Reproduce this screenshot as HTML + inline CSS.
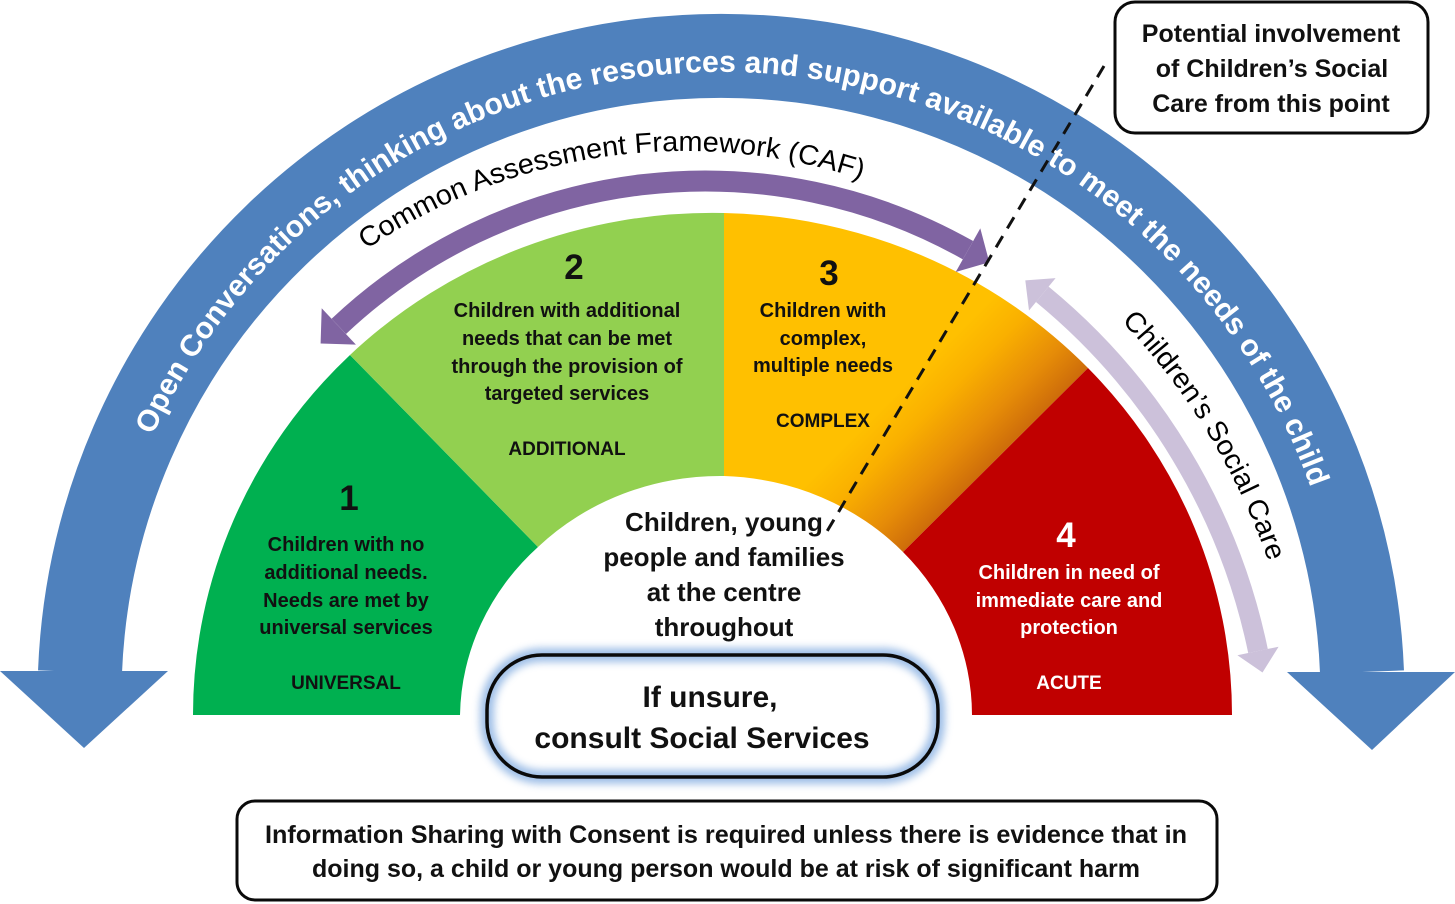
<!DOCTYPE html>
<html>
<head>
<meta charset="utf-8">
<style>
  html, body { margin:0; padding:0; background:#ffffff; }
  body { width:1455px; height:904px; overflow:hidden; }
  svg { display:block; }
  text { font-family: "Liberation Sans", Arial, sans-serif; }
</style>
</head>
<body>
<svg width="1455" height="904" viewBox="0 0 1455 904" xmlns="http://www.w3.org/2000/svg">
  <defs>
    <linearGradient id="g3" gradientUnits="userSpaceOnUse" x1="645" y1="645" x2="728" y2="728">
      <stop offset="0" stop-color="#FFC000"/>
      <stop offset="0.3" stop-color="#FAB000"/>
      <stop offset="0.7" stop-color="#E68C08"/>
      <stop offset="1" stop-color="#CD6C0A"/>
    </linearGradient>
    <filter id="blur" x="-20%" y="-40%" width="140%" height="180%">
      <feGaussianBlur stdDeviation="4"/>
    </filter>
    <path id="pBlue" d="M152.7,435.4 A626,626 0 0,1 1310.8,488"/>
    <path id="pCaf" d="M366.3,249.6 A564,564 0 0,1 864,180.2"/>
    <path id="pCsc" d="M1121.4,321.2 A660,660 0 0,1 1268.6,562"/>
  </defs>

  <!-- Blue outer arc arrow -->
  <path d="M80,672 A641.5,641.5 0 0,1 1362,672" fill="none" stroke="#4F81BD" stroke-width="84"/>
  <polygon points="0,671 168,671 84,748" fill="#4F81BD"/>
  <polygon points="1287,672 1455,672 1372,750" fill="#4F81BD"/>

  <!-- Segments -->
  <path d="M193,715 A519.5,502 0 0,1 350,355 L538,547 A256,239 0 0,0 460,715 Z" fill="#00B050"/>
  <path d="M350,355 A519.5,502 0 0,1 724,213 L724,476 A256,239 0 0,0 538,547 Z" fill="#92D050"/>
  <path d="M724,213 A519.5,502 0 0,1 1088,368 L903,552 A256,239 0 0,0 724,476 Z" fill="url(#g3)"/>
  <path d="M1088,368 A519.5,502 0 0,1 1232,715 L972,715 A256,239 0 0,0 903,552 Z" fill="#C00000"/>

  <!-- Purple CAF arrow -->
  <path d="M338.8,326.4 A534,534 0 0,1 968,250.2" fill="none" stroke="#8064A2" stroke-width="21"/>
  <polygon points="320.6,343.5 321.7,308.2 355.9,344.6" fill="#8064A2"/>
  <polygon points="989.3,262.3 980.3,228.4 955.7,272" fill="#8064A2"/>

  <!-- Lavender Children's Social Care arrow -->
  <path d="M1042.3,294.3 A626,626 0 0,1 1258,651" fill="none" stroke="#CCC1DA" stroke-width="20"/>
  <polygon points="1025.3,280.4 1055.6,278.1 1029,310.5" fill="#CCC1DA"/>
  <polygon points="1262.5,672.5 1278.6,646.7 1237.4,655.3" fill="#CCC1DA"/>

  <!-- Dashed line -->
  <line x1="1104" y1="66" x2="826" y2="533" stroke="#111" stroke-width="3" stroke-dasharray="13 9"/>

  <!-- Curved texts -->
  <text font-size="30" font-weight="bold" fill="#ffffff">
    <textPath href="#pBlue" textLength="1481" lengthAdjust="spacingAndGlyphs">Open Conversations, thinking about the resources and support available to meet the needs of the child</textPath>
  </text>
  <text font-size="28" fill="#000000">
    <textPath href="#pCaf" textLength="518" lengthAdjust="spacingAndGlyphs">Common Assessment Framework (CAF)</textPath>
  </text>
  <text font-size="28" fill="#000000">
    <textPath href="#pCsc" textLength="284" lengthAdjust="spacingAndGlyphs">Children’s Social Care</textPath>
  </text>

  <!-- Segment 1 text -->
  <g font-weight="bold" fill="#111" text-anchor="middle">
    <text x="349" y="510" font-size="35">1</text>
    <text x="346" y="551" font-size="20">Children with no</text>
    <text x="346" y="579" font-size="20">additional needs.</text>
    <text x="346" y="607" font-size="20">Needs are met by</text>
    <text x="346" y="634" font-size="20">universal services</text>
    <text x="346" y="689" font-size="19">UNIVERSAL</text>
  </g>

  <!-- Segment 2 text -->
  <g font-weight="bold" fill="#111" text-anchor="middle">
    <text x="574" y="279" font-size="35">2</text>
    <text x="567" y="317" font-size="20">Children with additional</text>
    <text x="567" y="345" font-size="20">needs that can be met</text>
    <text x="567" y="373" font-size="20">through the provision of</text>
    <text x="567" y="400" font-size="20">targeted services</text>
    <text x="567" y="455" font-size="19">ADDITIONAL</text>
  </g>

  <!-- Segment 3 text -->
  <g font-weight="bold" fill="#111" text-anchor="middle">
    <text x="829" y="285" font-size="35">3</text>
    <text x="823" y="317" font-size="20">Children with</text>
    <text x="823" y="345" font-size="20">complex,</text>
    <text x="823" y="372" font-size="20">multiple needs</text>
    <text x="823" y="427" font-size="19">COMPLEX</text>
  </g>

  <!-- Segment 4 text -->
  <g font-weight="bold" fill="#ffffff" text-anchor="middle">
    <text x="1066" y="547" font-size="35">4</text>
    <text x="1069" y="579" font-size="20">Children in need of</text>
    <text x="1069" y="607" font-size="20">immediate care and</text>
    <text x="1069" y="634" font-size="20">protection</text>
    <text x="1069" y="689" font-size="19">ACUTE</text>
  </g>

  <!-- Center text -->
  <g font-weight="bold" fill="#111" text-anchor="middle" font-size="26">
    <text x="724" y="531">Children, young</text>
    <text x="724" y="566">people and families</text>
    <text x="724" y="601">at the centre</text>
    <text x="724" y="636">throughout</text>
  </g>

  <!-- If unsure pill -->
  <rect x="487" y="655" width="451" height="122" rx="55" fill="#ffffff"/>
  <rect x="487" y="655" width="451" height="122" rx="55" fill="none" stroke="#8EB4E3" stroke-width="14" opacity="0.85" filter="url(#blur)"/>
  <rect x="487" y="655" width="451" height="122" rx="55" fill="none" stroke="#0a0a0a" stroke-width="3.5"/>
  <g font-weight="bold" fill="#111" text-anchor="middle" font-size="30">
    <text x="710" y="707">If unsure,</text>
    <text x="702" y="748">consult Social Services</text>
  </g>

  <!-- Potential involvement box -->
  <rect x="1115" y="2" width="313" height="131" rx="20" fill="#ffffff" stroke="#0a0a0a" stroke-width="3"/>
  <g font-weight="bold" fill="#111" text-anchor="middle" font-size="25">
    <text x="1271" y="42">Potential involvement</text>
    <text x="1272" y="77">of Children’s Social</text>
    <text x="1271" y="112">Care from this point</text>
  </g>

  <!-- Bottom info box -->
  <rect x="237" y="801" width="980" height="99" rx="18" fill="#ffffff" stroke="#0a0a0a" stroke-width="3"/>
  <g font-weight="bold" fill="#111" text-anchor="middle" font-size="25">
    <text x="726" y="843" textLength="922" lengthAdjust="spacingAndGlyphs">Information Sharing with Consent is required unless there is evidence that in</text>
    <text x="726" y="877" textLength="828" lengthAdjust="spacingAndGlyphs">doing so, a child or young person would be at risk of significant harm</text>
  </g>
</svg>
</body>
</html>
